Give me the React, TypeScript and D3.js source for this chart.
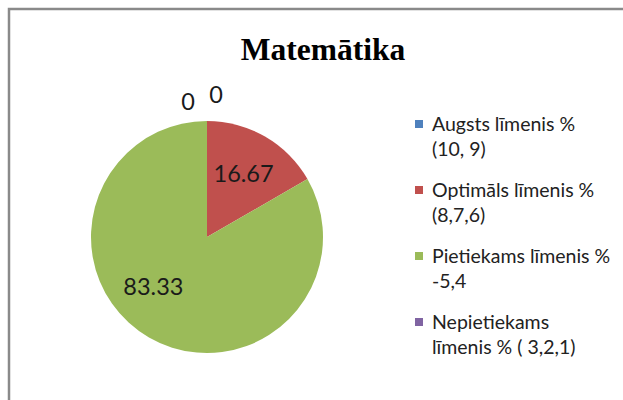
import * as d3 from "d3";
import { useEffect, useRef } from "react";

// chart data
const categories = [
  "Augsts līmenis % (10, 9)",
  "Optimāls līmenis % (8,7,6)",
  "Pietiekams līmenis % -5,4",
  "Nepietiekams līmenis % ( 3,2,1)",
];
const legendLines = [
  ["Augsts līmenis %", "(10, 9)"],
  ["Optimāls līmenis %", "(8,7,6)"],
  ["Pietiekams līmenis %", "-5,4"],
  ["Nepietiekams", "līmenis % ( 3,2,1)"],
];
const values = [0, 16.67, 83.33, 0];
const colors = ["#4F81BD", "#C0504D", "#9BBB59", "#8064A2"];
const title = "Matemātika";

const W = 623;
const H = 400;

const App = () => {
  const ref = useRef<SVGSVGElement>(null);

  useEffect(() => {
    const svg = d3.select(ref.current);
    svg.selectAll("*").remove();

    // chart frame (only left/top edges visible in the crop)
    svg
      .append("rect")
      .attr("x", 9)
      .attr("y", 9)
      .attr("width", W + 40)
      .attr("height", H + 40)
      .attr("fill", "white")
      .attr("stroke", "#8a8a8a")
      .attr("stroke-width", 2.5);

    svg
      .append("text")
      .attr("x", 323)
      .attr("y", 59.5)
      .attr("text-anchor", "middle")
      .attr("font-family", "Liberation Serif")
      .attr("font-weight", "bold")
      .attr("font-size", "31.5px")
      .attr("fill", "black")
      .text(title);

    const cx = 207;
    const cy = 237;
    const r = 116;

    const pie = d3
      .pie<number>()
      .sort(null)
      .value((d) => d);
    const arcs = pie(values);
    const arc = d3.arc<d3.PieArcDatum<number>>().innerRadius(0).outerRadius(r);

    const g = svg.append("g").attr("transform", `translate(${cx},${cy})`);

    g.selectAll("path")
      .data(arcs)
      .enter()
      .append("path")
      .attr("d", arc)
      .attr("fill", (_d, i) => colors[i]);

    // data labels: inside for real slices, outside for zero slices
    const inner = d3.arc<d3.PieArcDatum<number>>().innerRadius(r * 0.63).outerRadius(r * 0.63);
    const outer = d3.arc<d3.PieArcDatum<number>>().innerRadius(r + 26).outerRadius(r + 26);
    // Excel's best-fit nudges (degrees / px)
    const angleNudge = [0, 0, 0.3, 0];
    const xNudge = [9, 0, 0, -19];
    const yNudge = [0, 0, 0, 7];

    g.selectAll("text.lbl")
      .data(arcs)
      .enter()
      .append("text")
      .attr("class", "lbl")
      .attr("transform", (d, i) => {
        const dd = { ...d, startAngle: d.startAngle + angleNudge[i], endAngle: d.endAngle + angleNudge[i] };
        const [x, y] = d.value === 0 ? outer.centroid(dd) : inner.centroid(dd);
        return `translate(${x + xNudge[i]},${y + yNudge[i]})`;
      })
      .attr("text-anchor", "middle")
      .attr("dy", "0.35em")
      .attr("font-family", "Lato")
      .attr("font-size", "23.5px")
      .attr("fill", "#1a1a1a")
      .text((d) => String(d.value));

    // legend
    const legend = svg
      .append("g")
      .attr("transform", "translate(415,124)");
    const item = legend
      .selectAll("g")
      .data(categories)
      .enter()
      .append("g")
      .attr("transform", (_d, i) => `translate(0,${i * 66})`);
    item
      .append("rect")
      .attr("x", 0)
      .attr("y", -4)
      .attr("width", 8)
      .attr("height", 8)
      .attr("fill", (_d, i) => colors[i]);
    item.each(function (_d, i) {
      const t = d3
        .select(this)
        .append("text")
        .attr("font-family", "Lato")
        .attr("font-size", "19.5px")
        .attr("fill", "#222");
      legendLines[i].forEach((line, j) => {
        t.append("tspan")
          .attr("x", 17)
          .attr("y", j * 25)
          .attr("dy", "0.35em")
          .text(line);
      });
    });
  }, []);

  return (
    <svg
      ref={ref}
      width={W}
      height={H}
      style={{ position: "absolute", left: 0, top: 0, background: "white" }}
    />
  );
};

export default App;
